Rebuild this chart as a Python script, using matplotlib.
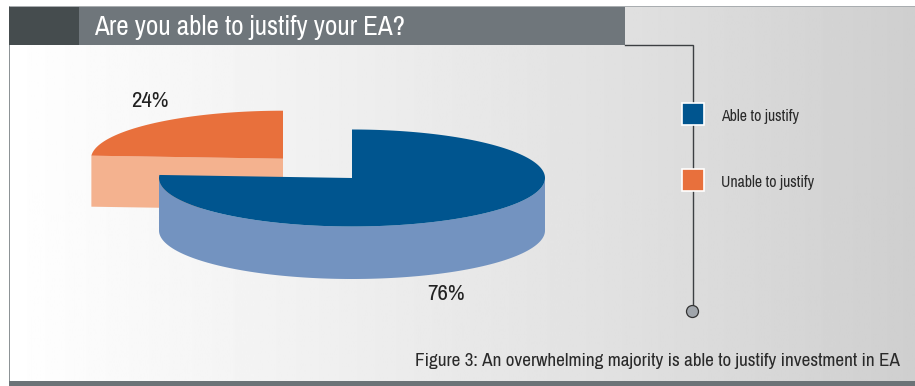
import numpy as np
import matplotlib
matplotlib.use('Agg')
import matplotlib.pyplot as plt
from matplotlib.patches import Rectangle, Polygon, Circle

title = 'Are you able to justify your EA?'
caption = 'Figure 3: An overwhelming majority is able to justify investment in EA'
categories = ['Able to justify', 'Unable to justify']
shares = [76, 24]
share_labels = ['76%', '24%']
top_colors = ['#00558f', '#e8703c']
side_colors = ['#7393c0', '#f4b28f']

plt.rcParams['font.family'] = ['Archivo Narrow', 'Liberation Sans', 'DejaVu Sans']

fig = plt.figure(figsize=(9.15, 3.86), dpi=100)
ax = fig.add_axes([0, 0, 1, 1])

# panel background, light on the left and grey on the right
shade = np.interp(np.linspace(0, 1, 400), [0, 0.05, 0.35, 0.7, 1], [1.0, 0.99, 0.94, 0.875, 0.81])
ax.imshow(shade[None, :], cmap='gray', vmin=0, vmax=1, extent=[10, 915, 381, 7], aspect='auto', zorder=0)
ax.set_xlim(0, 915)
ax.set_ylim(386, 0)
ax.axis('off')

# frame and header
ax.add_patch(Rectangle((8.5, 6), 906.5, 1.2, fc='#a9adb0', ec='none', zorder=1))
ax.add_patch(Rectangle((8.5, 6), 1.6, 376, fc='#8d9396', ec='none', zorder=1))
ax.add_patch(Rectangle((8.5, 381), 906.5, 5, fc='#6c7377', ec='none', zorder=1))
ax.add_patch(Rectangle((9, 7), 70, 38, fc='#454c4e', ec='none', zorder=2))
ax.add_patch(Rectangle((79, 7), 546, 38, fc='#6f767b', ec='none', zorder=2))
ax.text(94, 27, title, color='white', fontsize=19.5, va='center', ha='left', zorder=3)


def ellipse_pts(cx, cy, rx, ry, a0, a1):
    t = np.radians(np.linspace(a0, a1, 200))
    return np.column_stack([cx + rx * np.cos(t), cy - ry * np.sin(t)])


def draw_slice(cx, cy, rx, ry, depth, a0, a1, top, side, z, cut_face=False):
    arc = ellipse_pts(cx, cy, rx, ry, a0, a1)
    if cut_face:
        # flat face of the slice that is pulled back
        tip = arc[-1]
        wall = np.array([tip, [cx, cy], [cx, cy + depth], tip + [0, depth]])
    else:
        # only the lower half of the rim faces the viewer
        rim = ellipse_pts(cx, cy, rx, ry, 0, max(a1, -180))
        wall = np.vstack([rim, (rim + [0, depth])[::-1]])
    ax.add_patch(Polygon(wall, fc=side, ec='none', zorder=z))
    ax.add_patch(Polygon(np.vstack([[cx, cy], arc]), fc=top, ec='none', zorder=z + 0.1))


sweeps = [360 * s / sum(shares) for s in shares]
# blue runs clockwise from 12 o'clock, the pulled out slice anticlockwise from it
draw_slice(283, 158.7, 192, 48, 51, 90, 90 + sweeps[1], top_colors[1], side_colors[1], 4, cut_face=True)
draw_slice(352, 178, 193, 48.5, 52.5, 90, 90 - sweeps[0], top_colors[0], side_colors[0], 5)

ax.text(150, 101, share_labels[1], color='#222222', fontsize=16.5, ha='center', va='center', zorder=6)
ax.text(446, 294, share_labels[0], color='#222222', fontsize=16.5, ha='center', va='center', zorder=6)

# legend rail
ax.plot([625, 692.5, 692.5], [45, 45, 306], color='#3c3f42', lw=1, zorder=3, solid_joinstyle='miter')
ax.add_patch(Circle((692.5, 311.5), 6, fc='#a0a5ab', ec='#333333', lw=0.9, zorder=4))
for y, name, color in zip([114, 180], categories, top_colors):
    ax.add_patch(Rectangle((682, y - 11), 22, 22, fc=color, ec='white', lw=1.2, zorder=5))
    ax.text(721, y + 2, name, color='#2a2a2a', fontsize=11.4, ha='left', va='center', zorder=5)

ax.text(900, 361, caption, color='#2a2a2a', fontsize=13.75, ha='right', va='center', zorder=5)

fig.savefig('out.png', dpi=100)
